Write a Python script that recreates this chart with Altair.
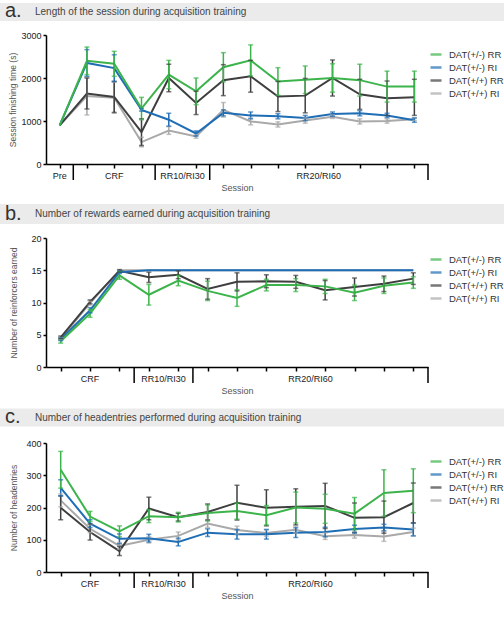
import altair as alt
import pandas as pd

FONT = "Liberation Sans"
SERIES = ["DAT(+/-) RR", "DAT(+/-) RI", "DAT(+/+) RR", "DAT(+/+) RI"]
COLORS = ["#3cb44b", "#1f6eb5", "#3f3f3f", "#a9a9a9"]
# lighter series first so the RR lines sit on top
DRAW_ORDER = ["DAT(+/+) RI", "DAT(+/+) RR", "DAT(+/-) RI", "DAT(+/-) RR"]

PLOT_W = 382
PLOT_H = 129
LEFT = 46  # plot origin from the left edge of the header band

# ---- a. Length of the session (s) ----
a_sessions = list(range(1, 15))
a_rr_het = [900, 2400, 2330, 1290, 2080, 1690, 2250, 2410, 1920, 1960, 2000, 1950, 1800, 1800]
a_rr_het_err = [0, 320, 290, 260, 330, 310, 340, 360, 320, 320, 330, 370, 360, 360]
a_ri_het = [900, 2350, 2230, 1260, 1030, 710, 1190, 1130, 1110, 1070, 1160, 1180, 1130, 1020]
a_ri_het_err = [0, 310, 310, 30, 150, 60, 70, 80, 60, 60, 50, 60, 50, 50]
a_rr_wt = [900, 1640, 1560, 740, 2000, 1420, 1950, 2040, 1570, 1590, 2000, 1620, 1530, 1550]
a_rr_wt_err = [0, 360, 360, 310, 320, 270, 360, 370, 350, 400, 420, 350, 400, 420]
a_ri_wt = [900, 1580, 1540, 510, 780, 640, 1260, 990, 920, 1010, 1100, 990, 1000, 1040]
a_ri_wt_err = [0, 440, 360, 110, 90, 40, 170, 80, 60, 60, 40, 60, 50, 30]
a_groups = ["Pre", "CRF", "RR10/RI30", "RR20/RI60"]
a_group_centers = [1.0, 3.0, 5.5, 10.5]
a_separators = [1.5, 4.5, 6.5, 14.5]

# ---- b. Number of rewards earned ----
b_sessions = list(range(1, 14))
b_rr_het = [4.0, 8.3, 14.2, 11.2, 13.4, 11.8, 10.7, 12.7, 12.7, 12.5, 11.5, 12.6, 13.1]
b_rr_het_err = [0.3, 0.6, 0.6, 1.6, 0.8, 1.5, 1.3, 0.9, 1.0, 1.1, 1.2, 1.2, 0.9]
b_ri_het = [4.3, 8.8, 14.7, 15, 15, 15, 15, 15, 15, 15, 15, 15, 15]
b_ri_het_err = [0.2, 0.4, 0.2, 0, 0, 0, 0, 0, 0, 0, 0, 0, 0]
b_rr_wt = [4.6, 10.1, 14.9, 13.9, 14.3, 12.1, 13.2, 13.3, 13.2, 11.9, 12.4, 12.9, 13.7]
b_rr_wt_err = [0.2, 0.3, 0.2, 0.8, 0.6, 1.6, 1.4, 1.0, 1.0, 1.5, 1.4, 1.2, 0.9]
b_ri_wt = [4.4, 9.9, 15, 15, 15, 15, 15, 15, 15, 15, 15, 15, 15]
b_ri_wt_err = [0.2, 0.3, 0, 0, 0, 0, 0, 0, 0, 0, 0, 0, 0]
b_groups = ["CRF", "RR10/RI30", "RR20/RI60"]
b_group_centers = [2.0, 4.5, 9.5]
b_separators = [3.5, 5.5, 13.5]

# ---- c. Number of headentries ----
c_sessions = list(range(1, 14))
c_rr_het = [317, 172, 126, 173, 170, 183, 189, 176, 200, 196, 181, 245, 252]
c_rr_het_err = [57, 16, 17, 20, 15, 25, 25, 30, 48, 45, 50, 72, 68]
c_ri_het = [261, 150, 103, 105, 93, 122, 117, 117, 122, 124, 133, 138, 132]
c_ri_het_err = [25, 12, 15, 12, 12, 12, 15, 15, 15, 15, 12, 10, 20]
c_rr_wt = [199, 124, 65, 197, 170, 186, 215, 199, 202, 205, 168, 170, 214]
c_rr_wt_err = [37, 25, 14, 35, 12, 25, 54, 56, 56, 70, 46, 50, 62]
c_ri_wt = [222, 134, 81, 100, 112, 150, 130, 121, 131, 111, 115, 110, 124]
c_ri_wt_err = [20, 12, 10, 10, 12, 12, 12, 10, 10, 10, 10, 15, 12]


def series_frame(sessions, means, errs):
    rows = []
    for name in DRAW_ORDER:
        for s, m, e in zip(sessions, means[name], errs[name]):
            rows.append({"session": s, "value": m, "lo": m - e, "hi": m + e,
                         "err": e, "series": name})
    return pd.DataFrame(rows)


def panel(letter, heading, sessions, means, errs, ydom, yticks, ytitle,
          groups, centers, seps, band_top, band_bottom, letter_y, heading_y,
          legend_y, ytitle_x):
    n = len(sessions)
    df = series_frame(sessions, means, errs)
    one = pd.DataFrame({"k": [0]})

    color = alt.Color(
        "series:N",
        scale=alt.Scale(domain=SERIES, range=COLORS),
        legend=alt.Legend(
            title=None, orient="none", legendX=PLOT_W + 1, legendY=legend_y,
            symbolType="stroke", symbolSize=121, symbolStrokeWidth=2.5,
            labelFontSize=9.5, labelFont=FONT, labelColor="#333",
            labelOffset=6, rowPadding=1, padding=0,
        ),
    )
    xscale = alt.Scale(domain=[0.5, n + 0.5], nice=False, zero=False)
    xaxis = alt.Axis(
        values=sessions, labels=False, grid=False, tickSize=4,
        tickWidth=1.5, tickColor="black", domainColor="black",
        domainWidth=1.5, title="Session", titleFont=FONT,
        titleFontSize=9, titleFontWeight="normal", titleColor="#555",
        titlePadding=15,
    )
    yscale = alt.Scale(domain=ydom, nice=False)
    yaxis = alt.Axis(
        values=yticks, format="d", labelOverlap=False, grid=False,
        tickCount=len(yticks), tickSize=3, tickWidth=1.5,
        tickColor="black", domainColor="black", domainWidth=1.5,
        labelFont=FONT, labelFontSize=9, labelColor="#222",
        labelPadding=2, title=ytitle, titleFont=FONT, titleFontSize=8.5,
        titleFontWeight="normal", titleColor="#555", titleX=ytitle_x,
        titleBaseline="middle",
    )

    def X(field):
        return alt.X(field, scale=xscale, axis=xaxis)

    def Y(field):
        return alt.Y(field, scale=yscale, axis=yaxis)

    band = alt.Chart(one).mark_rect(color="#ebebeb").encode(
        x=alt.value(-LEFT), x2=alt.value(504 - LEFT),
        y=alt.value(band_top), y2=alt.value(band_bottom),
    )
    letter_mark = alt.Chart(one).mark_text(
        text=letter, font=FONT, fontSize=20, color="#333", align="left",
        baseline="alphabetic",
    ).encode(x=alt.value(-LEFT + 5), y=alt.value(letter_y))
    heading_mark = alt.Chart(one).mark_text(
        text=heading, font=FONT, fontSize=10, color="#444", align="left",
        baseline="middle",
    ).encode(x=alt.value(-LEFT + 35), y=alt.value(heading_y))

    lines = alt.Chart(df).mark_line(strokeWidth=2).encode(
        x=X("session:Q"), y=Y("value:Q"), color=color, order="session:Q"
    )
    bars_df = df[df["err"] > 0]
    bars = alt.Chart(bars_df).mark_rule(strokeWidth=1.5).encode(
        x=X("session:Q"), y=Y("lo:Q"), y2="hi:Q", color="series:N"
    )
    caps_hi = alt.Chart(bars_df).mark_tick(
        orient="horizontal", size=5, thickness=1.5
    ).encode(x=X("session:Q"), y=Y("hi:Q"), color="series:N")
    caps_lo = alt.Chart(bars_df).mark_tick(
        orient="horizontal", size=5, thickness=1.5
    ).encode(x=X("session:Q"), y=Y("lo:Q"), color="series:N")

    sep_df = pd.DataFrame({"session": seps})
    sep_marks = alt.Chart(sep_df).mark_rule(
        color="black", strokeWidth=1.5
    ).encode(x=X("session:Q"), y=alt.value(PLOT_H), y2=alt.value(PLOT_H + 16))

    grp_df = pd.DataFrame({"session": centers, "label": groups})
    grp_marks = alt.Chart(grp_df).mark_text(
        font=FONT, fontSize=9, color="#222", baseline="middle"
    ).encode(x=X("session:Q"), y=alt.value(PLOT_H + 12), text="label:N")

    return alt.layer(
        band, letter_mark, heading_mark, lines, bars, caps_hi, caps_lo,
        sep_marks, grp_marks,
    ).properties(width=PLOT_W, height=PLOT_H)


panel_a = panel(
    "a.", "Length of the session during acquisition training", a_sessions,
    {"DAT(+/-) RR": a_rr_het, "DAT(+/-) RI": a_ri_het,
     "DAT(+/+) RR": a_rr_wt, "DAT(+/+) RI": a_ri_wt},
    {"DAT(+/-) RR": a_rr_het_err, "DAT(+/-) RI": a_ri_het_err,
     "DAT(+/+) RR": a_rr_wt_err, "DAT(+/+) RI": a_ri_wt_err},
    [0, 3000], [0, 1000, 2000, 3000], "Session finishing time (s)",
    a_groups, a_group_centers, a_separators,
    -32, -14, -18, -23, 12.5, -34,
)
panel_b = panel(
    "b.", "Number of rewards earned during acquisition training", b_sessions,
    {"DAT(+/-) RR": b_rr_het, "DAT(+/-) RI": b_ri_het,
     "DAT(+/+) RR": b_rr_wt, "DAT(+/+) RI": b_ri_wt},
    {"DAT(+/-) RR": b_rr_het_err, "DAT(+/-) RI": b_ri_het_err,
     "DAT(+/+) RR": b_rr_wt_err, "DAT(+/+) RI": b_ri_wt_err},
    [0, 20], [0, 5, 10, 15, 20], "Number of reinforcers earned",
    b_groups, b_group_centers, b_separators,
    -34, -14, -18, -24, 14.5, -33,
)
panel_c = panel(
    "c.", "Number of headentries performed during acquisition training",
    c_sessions,
    {"DAT(+/-) RR": c_rr_het, "DAT(+/-) RI": c_ri_het,
     "DAT(+/+) RR": c_rr_wt, "DAT(+/+) RI": c_ri_wt},
    {"DAT(+/-) RR": c_rr_het_err, "DAT(+/-) RI": c_ri_het_err,
     "DAT(+/+) RR": c_rr_wt_err, "DAT(+/+) RI": c_ri_wt_err},
    [0, 400], [0, 100, 200, 300, 400], "Number of headentries",
    b_groups, b_group_centers, b_separators,
    -34.5, -16.5, -20, -25.5, 11.5, -33,
)

chart = alt.vconcat(panel_a, panel_b, panel_c, spacing=11).properties(
    padding={"left": 0, "top": 1, "right": 0, "bottom": 0},
    background="white",
).configure_view(stroke=None).resolve_scale(color="independent")

chart.save("out.html", embed_options={"renderer": "svg", "actions": False})
